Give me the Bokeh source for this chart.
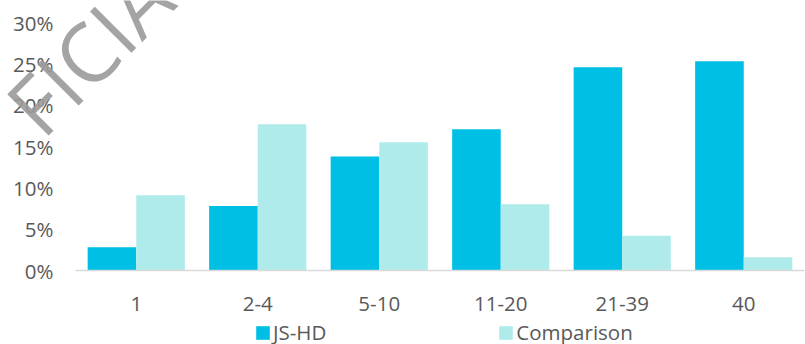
from bokeh.plotting import figure
from bokeh.layouts import column
from bokeh.models import (ColumnDataSource, FactorRange, Range1d, FixedTicker,
                          NumeralTickFormatter, Legend, LegendItem, Label)
from bokeh.transform import dodge
from bokeh.embed import file_html
from bokeh.resources import INLINE

categories = ["1", "2-4", "5-10", "11-20", "21-39", "40"]
js_hd = [0.028, 0.078, 0.138, 0.171, 0.246, 0.253]
comparison = [0.091, 0.177, 0.155, 0.080, 0.042, 0.016]
y_ticks = [0.0, 0.05, 0.10, 0.15, 0.20, 0.25, 0.30]
series_names = ["JS-HD", "Comparison"]
series_colors = ["#00BFE5", "#B0EBEB"]

FONT = "Open Sans"
TXT = "#595959"
FS = "20.5px"

src = ColumnDataSource(dict(cat=categories, js=js_hd, comp=comparison))

p = figure(x_range=FactorRange(*categories, range_padding=0), y_range=Range1d(0, 0.30),
           width=805, height=344, output_backend="svg", toolbar_location=None,
           min_border_left=75, min_border_right=1, min_border_top=22, min_border_bottom=74)
p.outline_line_color = None
p.xgrid.grid_line_color = None
p.ygrid.grid_line_color = None
p.background_fill_color = "white"
p.border_fill_color = "white"

r1 = p.vbar(x=dodge("cat", -0.2, range=p.x_range), top="js", width=0.4, source=src,
            fill_color=series_colors[0], line_color=None)
r2 = p.vbar(x=dodge("cat", 0.2, range=p.x_range), top="comp", width=0.4, source=src,
            fill_color=series_colors[1], line_color=None)

p.yaxis.ticker = FixedTicker(ticks=y_ticks)
p.yaxis.formatter = NumeralTickFormatter(format="0%")
p.yaxis.axis_line_color = None
p.yaxis.major_tick_line_color = None
p.yaxis.minor_tick_line_color = None
p.yaxis.major_tick_out = 0
p.yaxis.major_label_standoff = 22
p.yaxis.major_label_text_font = FONT
p.yaxis.major_label_text_font_size = FS
p.yaxis.major_label_text_color = TXT

p.xaxis.axis_line_color = "#D9D9D9"
p.xaxis.axis_line_width = 1.5
p.xaxis.major_tick_line_color = None
p.xaxis.minor_tick_line_color = None
p.xaxis.major_tick_out = 0
p.xaxis.major_label_standoff = 26
p.xaxis.major_label_text_font = FONT
p.xaxis.major_label_text_font_size = FS
p.xaxis.major_label_text_color = TXT

# transparent overlay figure for the legend and the watermark (not clipped by axes panels)
ov = figure(width=880, height=344, x_range=Range1d(0, 1), y_range=Range1d(0, 1),
            x_axis_type=None, y_axis_type=None, output_backend="svg", toolbar_location=None,
            min_border=0, margin=(-344, 0, 0, -75))
ov.outline_line_color = None
ov.background_fill_alpha = 0
ov.border_fill_alpha = 0
ov.xgrid.visible = False
ov.ygrid.visible = False

# zero-size legend proxies carrying the series colours
l1 = ov.vbar(x=[0], top=[0], width=0, fill_color=series_colors[0], line_color=None)
l2 = ov.vbar(x=[0], top=[0], width=0, fill_color=series_colors[1], line_color=None)

legend = Legend(items=[LegendItem(label=series_names[0], renderers=[l1]),
                       LegendItem(label=series_names[1], renderers=[l2])],
                orientation="horizontal", location=(254, -2),
                glyph_width=17, glyph_height=17, label_standoff=2, spacing=171,
                padding=0, margin=0, border_line_color=None, background_fill_alpha=0,
                label_text_font=FONT, label_text_font_size=FS,
                label_text_color=TXT)
ov.add_layout(legend, "center")

wm = Label(x=20, y=226, x_units="screen", y_units="screen", text="FICIAL",
           angle=0.785, text_font=FONT, text_font_size="82px",
           text_color="#9A9A9A", text_alpha=0.9, text_align="left",
           text_baseline="alphabetic")
ov.add_layout(wm)

layout = column(p, ov, spacing=0)
open("out.html", "w").write(file_html(layout, INLINE))
